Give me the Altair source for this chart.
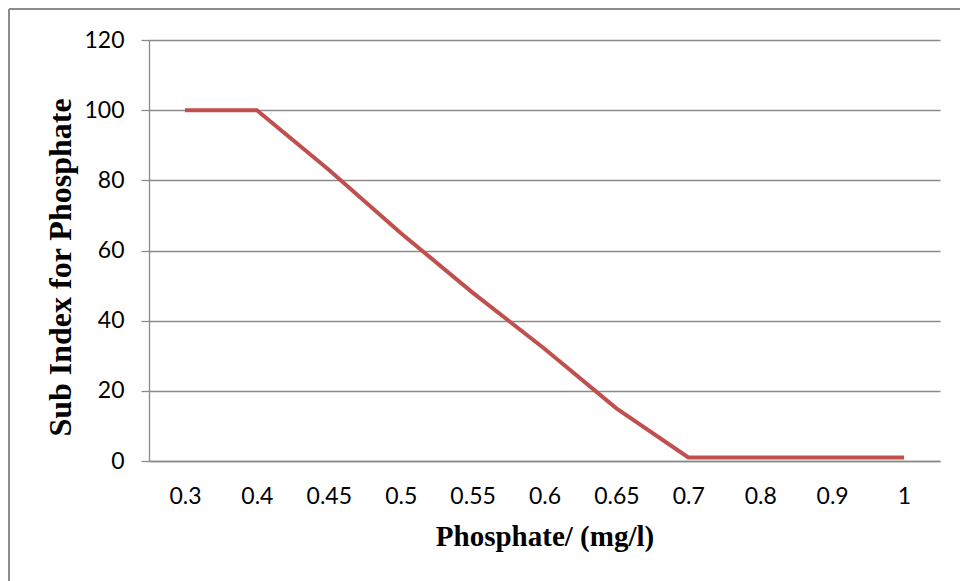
import altair as alt
import pandas as pd

phosphate = ["0.3", "0.4", "0.45", "0.5", "0.55", "0.6", "0.65", "0.7", "0.8", "0.9", "1"]
sub_index = [100, 100, 83, 65, 48, 32, 15, 1, 1, 1, 1]

df = pd.DataFrame({"phosphate": phosphate, "sub_index": sub_index})

GRID = "#8a8a8a"

line = alt.Chart(df).mark_line(color="#C0504D", strokeWidth=4, strokeCap="butt", strokeJoin="miter").encode(
    x=alt.X(
        "phosphate:O",
        sort=phosphate,
        scale=alt.Scale(type="point", padding=0.5),
        axis=alt.Axis(
            title="Phosphate/ (mg/l)",
            labelAngle=0,
            labelFont="Lato",
            labelFontSize=23,
            labelColor="#000000",
            labelPadding=24,
            ticks=False,
            domainColor=GRID,
            domainWidth=1.3,
            grid=False,
            titleFont="Liberation Serif",
            titleFontWeight="bold",
            titleFontSize=29,
            titleColor="#000000",
            titleBaseline="alphabetic",
            titleY=84,
        ),
    ),
    y=alt.Y(
        "sub_index:Q",
        scale=alt.Scale(domain=[0, 120], nice=False),
        axis=alt.Axis(
            title="Sub Index for Phosphate",
            values=[0, 20, 40, 60, 80, 100, 120],
            labelFont="Lato",
            labelFontSize=23,
            labelColor="#000000",
            labelPadding=17,
            tickSize=8,
            tickColor=GRID,
            tickWidth=1.3,
            domainColor=GRID,
            domainWidth=1.3,
            gridColor=GRID,
            gridWidth=1.3,
            titleFont="Liberation Serif",
            titleFontWeight="bold",
            titleFontSize=32,
            titleColor="#000000",
            titleAngle=-90,
            titleBaseline="alphabetic",
            titleX=-79,
            titleY=227,
        ),
    ),
)

border_left = alt.Chart(df).mark_rule(color="#8c8c8c", strokeWidth=1.5).encode(
    x=alt.value(-140), y=alt.value(-31), y2=alt.value(560)
)
border_top = alt.Chart(df).mark_rule(color="#8c8c8c", strokeWidth=1.5).encode(
    x=alt.value(-140), x2=alt.value(830), y=alt.value(-31)
)

chart = alt.layer(border_left, border_top, line).properties(
    width=791,
    height=421,
    autosize=alt.AutoSizeParams(type="none"),
    padding={"left": 149, "top": 40, "right": 20, "bottom": 120},
    background="#ffffff",
).configure_view(stroke=None)

chart.save("out.html", embed_options={"renderer": "svg", "actions": False})
